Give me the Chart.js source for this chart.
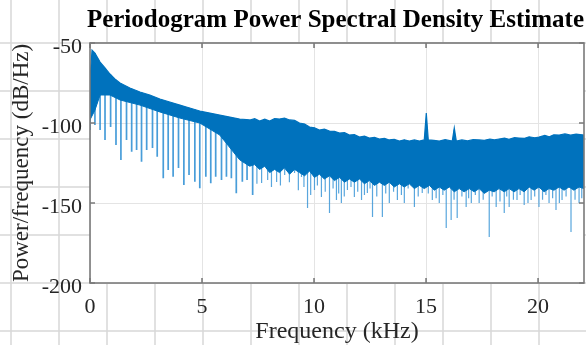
<!DOCTYPE html>
<html>
<head>
<meta charset="utf-8">
<script src="https://cdn.jsdelivr.net/npm/chart.js@4/dist/chart.umd.min.js"></script>
<style>
html,body{margin:0;padding:0;background:#fff}
</style>
</head>
<body>
<canvas id="c" width="586" height="345"></canvas>
<script>
// upper edge of the spectrum (kHz, dB/Hz)
const topFreq = [0, 0.09, 0.22, 0.45, 0.67, 0.89, 1.11, 1.34, 1.78, 2.23, 2.67, 3.12, 3.56, 4.01, 4.45, 4.90, 5.35, 5.79, 6.24, 6.68, 7.13, 7.35, 7.57, 7.80, 8.02, 8.24, 8.46, 8.68, 8.91, 9.13, 9.35, 9.58, 9.80, 10.02, 10.24, 10.46, 10.69, 10.91, 11.14, 11.36, 11.58, 11.80, 12.03, 12.25, 12.47, 12.70, 12.92, 13.14, 13.36, 13.58, 13.81, 14.03, 14.25, 14.48, 14.70, 14.92, 15.01, 15.10, 15.35, 15.59, 15.85, 16.17, 16.26, 16.35, 16.60, 16.85, 17.10, 17.37, 17.60, 17.85, 18.05, 18.26, 18.50, 18.70, 18.95, 19.15, 19.40, 19.60, 19.85, 20.04, 20.30, 20.50, 20.70, 20.94, 21.20, 21.45, 21.70, 22.05];
const topVal  = [-73, -54.5, -56.3, -61.9, -65.6, -69.4, -72.5, -75, -78.1, -80.6, -82.5, -85, -86.9, -88.8, -90.6, -92.5, -93.8, -95, -96.3, -97.5, -98.1, -97.3, -98.8, -97.6, -98.8, -97.2, -97.5, -96.9, -98.1, -98.4, -100, -100.6, -102.5, -103, -104.4, -103.8, -105, -105.2, -106.3, -106, -107.5, -107.2, -108.8, -108.2, -109.4, -109, -110, -109.6, -110.6, -110.2, -111.3, -110.5, -111.3, -110.6, -111.3, -110.6, -93.8, -110.6, -110.8, -111.3, -110.4, -111.3, -103.1, -111.3, -110.6, -111.2, -110.4, -110.6, -110.8, -110, -110.6, -110, -109.5, -110.2, -109.2, -109.4, -109.6, -108.6, -109.2, -108.8, -107.8, -108.6, -107.4, -107.5, -106.8, -107.6, -106.9, -107.5];

// lower edge of the solid part of the band
const lowFreq = [0, 0.22, 0.45, 0.89, 1.34, 2.23, 3.12, 4.01, 4.90, 5.79, 6.68, 6.90, 7.13, 7.35, 7.57, 7.80, 8.02, 8.24, 8.46, 8.68, 8.91, 9.13, 9.35, 9.58, 9.80, 10.02, 10.24, 10.46, 10.69, 10.91, 11.14, 11.36, 11.58, 11.80, 12.03, 12.25, 12.47, 12.70, 12.92, 13.14, 13.36, 13.58, 13.81, 14.03, 14.25, 14.48, 14.70, 14.92, 15.15, 15.37, 15.59, 15.81, 16.04, 16.26, 16.48, 16.70, 16.93, 17.15, 17.37, 17.60, 17.82, 18.04, 18.26, 18.49, 18.71, 18.93, 19.15, 19.38, 19.60, 19.82, 20.04, 20.27, 20.49, 20.71, 20.94, 21.16, 21.38, 21.60, 21.83, 22.05];
const lowVal  = [-98, -92, -82.5, -82.5, -85.6, -88.8, -93.1, -96.9, -100, -107.5, -123, -125, -127, -126, -129, -127, -131, -129, -131, -128, -132, -129, -131, -133, -130, -134, -132, -135, -133, -136, -134, -137, -135, -137, -135, -138, -136, -139, -137, -139, -137, -140, -138, -140, -138, -141, -139, -141, -139, -142, -140, -142, -140, -143, -141, -143, -141, -143, -141, -144, -142, -143, -141, -143, -141, -143, -141, -143, -140, -142, -140, -143, -141, -142, -140, -142, -140, -142, -140, -141];

// harmonic notches in the low band (kHz, lowest dB/Hz)
const notchFreq = [0.00, 0.22, 0.45, 0.67, 0.92, 1.16, 1.38, 1.63, 1.86, 2.08, 2.30, 2.53, 2.79, 3.00, 3.27, 3.49, 3.71, 3.95, 4.19, 4.42, 4.68, 4.90, 5.17, 5.39, 5.61, 5.87, 6.09, 6.31, 6.53, 6.80, 7.01, 7.26];
const notchVal  = [-104.4, -101.3, -104.4, -110.6, -102.5, -113.8, -123.1, -110.6, -117.9, -116.9, -124.2, -116.9, -115.6, -121.1, -134.6, -129.4, -133.6, -128.1, -138.8, -132.5, -136.7, -140.8, -133.6, -137.7, -133.6, -135.6, -133.6, -134.6, -143.9, -136.7, -135.6, -145];

// downward spikes below the noise band
const spikeFreq = [7.45, 7.66, 7.93, 8.10, 8.33, 8.50, 8.69, 8.90, 9.13, 9.30, 9.44, 9.55, 9.71, 9.85, 10.02, 10.15, 10.33, 10.50, 10.69, 10.85, 11.00, 11.10, 11.22, 11.35, 11.49, 11.65, 11.80, 11.95, 12.12, 12.25, 12.38, 12.50, 12.61, 12.80, 13.05, 13.20, 13.36, 13.55, 13.72, 13.90, 14.03, 14.20, 14.48, 14.65, 14.83, 15.10, 15.28, 15.45, 15.59, 15.75, 15.90, 16.12, 16.25, 16.39, 16.60, 16.79, 16.90, 17.02, 17.20, 17.37, 17.55, 17.82, 17.95, 18.13, 18.30, 18.49, 18.60, 18.71, 18.90, 19.06, 19.20, 19.38, 19.55, 19.69, 19.85, 20.04, 20.20, 20.35, 20.49, 20.65, 20.80, 20.95, 21.07, 21.25, 21.47, 21.65, 21.83, 21.95];
const spikeVal  = [-138, -137.5, -135.6, -140, -136.9, -139, -132.5, -137, -131.3, -142, -133.8, -140, -153.1, -145, -141.9, -139, -146.3, -143, -156.3, -141, -148.1, -144, -150, -146, -141.9, -140, -146.3, -143, -148.1, -145, -143.8, -141, -158.8, -146, -158.8, -144, -150, -143, -148.1, -145, -150, -141, -152.5, -146, -143.8, -144, -148.1, -147, -150, -145, -165.6, -160.6, -148, -159.4, -146, -152.5, -147, -150, -145, -150, -148, -171.3, -146, -152.5, -149, -156.3, -146, -152.5, -148, -148.1, -145, -151.3, -150, -148.1, -146, -152.5, -148, -145, -150, -147, -154.4, -150, -148.1, -146, -168.1, -148, -150, -147];

const xTicks = [0, 5, 10, 15, 20];
const yTicks = [-200, -150, -100, -50];

const BLUE = '#0072BD';
const FONT = 'Liberation Serif';

function topAt(f){
  for(let i=1;i<topFreq.length;i++){
    if(f<=topFreq[i]){
      const t=(f-topFreq[i-1])/(topFreq[i]-topFreq[i-1]);
      return topVal[i-1]+t*(topVal[i]-topVal[i-1]);
    }
  }
  return topVal[topVal.length-1];
}

function strokes(freqs, vals){
  const out=[];
  freqs.forEach((f,i)=>{
    out.push({x:f, y:topAt(f)});
    out.push({x:f, y:vals[i]});
    out.push({x:f, y:null});
  });
  return out;
}

// page grid behind the figure + white axes area
const paper = {
  id:'paper',
  beforeDraw(chart){
    const {ctx, chartArea:a, width, height} = chart;
    ctx.save();
    ctx.fillStyle='#fff';
    ctx.fillRect(0,0,width,height);
    ctx.strokeStyle='#d8d8d8';
    ctx.lineWidth=1.5;
    ctx.beginPath();
    for(let x=11;x<width;x+=48){ctx.moveTo(x,0);ctx.lineTo(x,height);}
    for(let y=-5;y<height;y+=48){ctx.moveTo(0,y);ctx.lineTo(width,y);}
    ctx.stroke();
    ctx.fillStyle='#fff';
    ctx.fillRect(a.left,a.top,a.right-a.left,a.bottom-a.top);
    ctx.restore();
  }
};

// axes box with inward ticks
const box = {
  id:'box',
  afterDatasetsDraw(chart){
    const {ctx, chartArea:a, scales} = chart;
    ctx.save();
    ctx.strokeStyle='#7a7a7a';
    ctx.lineWidth=1.6;
    ctx.strokeRect(a.left,a.top,a.right-a.left,a.bottom-a.top);
    ctx.beginPath();
    xTicks.forEach(v=>{
      const x=scales.x.getPixelForValue(v);
      ctx.moveTo(x,a.bottom);ctx.lineTo(x,a.bottom-5);
      ctx.moveTo(x,a.top);ctx.lineTo(x,a.top+5);
    });
    yTicks.forEach(v=>{
      const y=scales.y.getPixelForValue(v);
      ctx.moveTo(a.left,y);ctx.lineTo(a.left+5,y);
      ctx.moveTo(a.right,y);ctx.lineTo(a.right-5,y);
    });
    ctx.stroke();
    ctx.restore();
  }
};

new Chart(document.getElementById('c'), {
  type:'line',
  data:{
    datasets:[
      {data:topFreq.map((f,i)=>({x:f,y:topVal[i]})), borderColor:BLUE, borderWidth:1.2, backgroundColor:BLUE, fill:'+1', pointRadius:0, tension:0},
      {data:lowFreq.map((f,i)=>({x:f,y:lowVal[i]})), borderColor:BLUE, borderWidth:1, pointRadius:0, fill:false, tension:0},
      {data:strokes(notchFreq, notchVal), borderColor:'rgba(40,140,210,0.85)', borderWidth:1.7, pointRadius:0, fill:false, spanGaps:false},
      {data:strokes(spikeFreq, spikeVal), borderColor:'rgba(60,150,215,0.85)', borderWidth:1.2, pointRadius:0, fill:false, spanGaps:false}
    ]
  },
  options:{
    responsive:false,
    animation:false,
    layout:{padding:{left:0,right:2,top:0,bottom:0}},
    plugins:{
      legend:{display:false},
      tooltip:{enabled:false},
      title:{display:true, align:'end', text:'Periodogram Power Spectral Density Estimate', color:'#000',
        font:{family:FONT, size:25, weight:'bold'}, padding:{top:6, bottom:7}}
    },
    scales:{
      x:{type:'linear', min:0, max:22.05,
        afterFit(s){s.height=62;},
        border:{display:false},
        grid:{color:'#e4e4e4', drawTicks:false},
        ticks:{stepSize:5, includeBounds:false, padding:11, color:'#262626', font:{family:FONT, size:22}, maxRotation:0, callback:v=>String(v)},
        title:{display:true, text:'Frequency (kHz)', color:'#262626', font:{family:FONT, size:24, lineHeight:1.1}, padding:{top:0,bottom:0}}
      },
      y:{type:'linear', min:-200, max:-50,
        afterFit(s){s.width=90;},
        border:{display:false},
        grid:{color:'#e4e4e4', drawTicks:false},
        ticks:{stepSize:50, padding:8, labelOffset:4, color:'#262626', font:{family:FONT, size:22}, callback:v=>String(v)},
        title:{display:true, text:'Power/frequency (dB/Hz)', color:'#262626', font:{family:FONT, size:23}, padding:{top:8,bottom:0}}
      }
    }
  },
  plugins:[paper, box]
});
</script>
</body>
</html>
